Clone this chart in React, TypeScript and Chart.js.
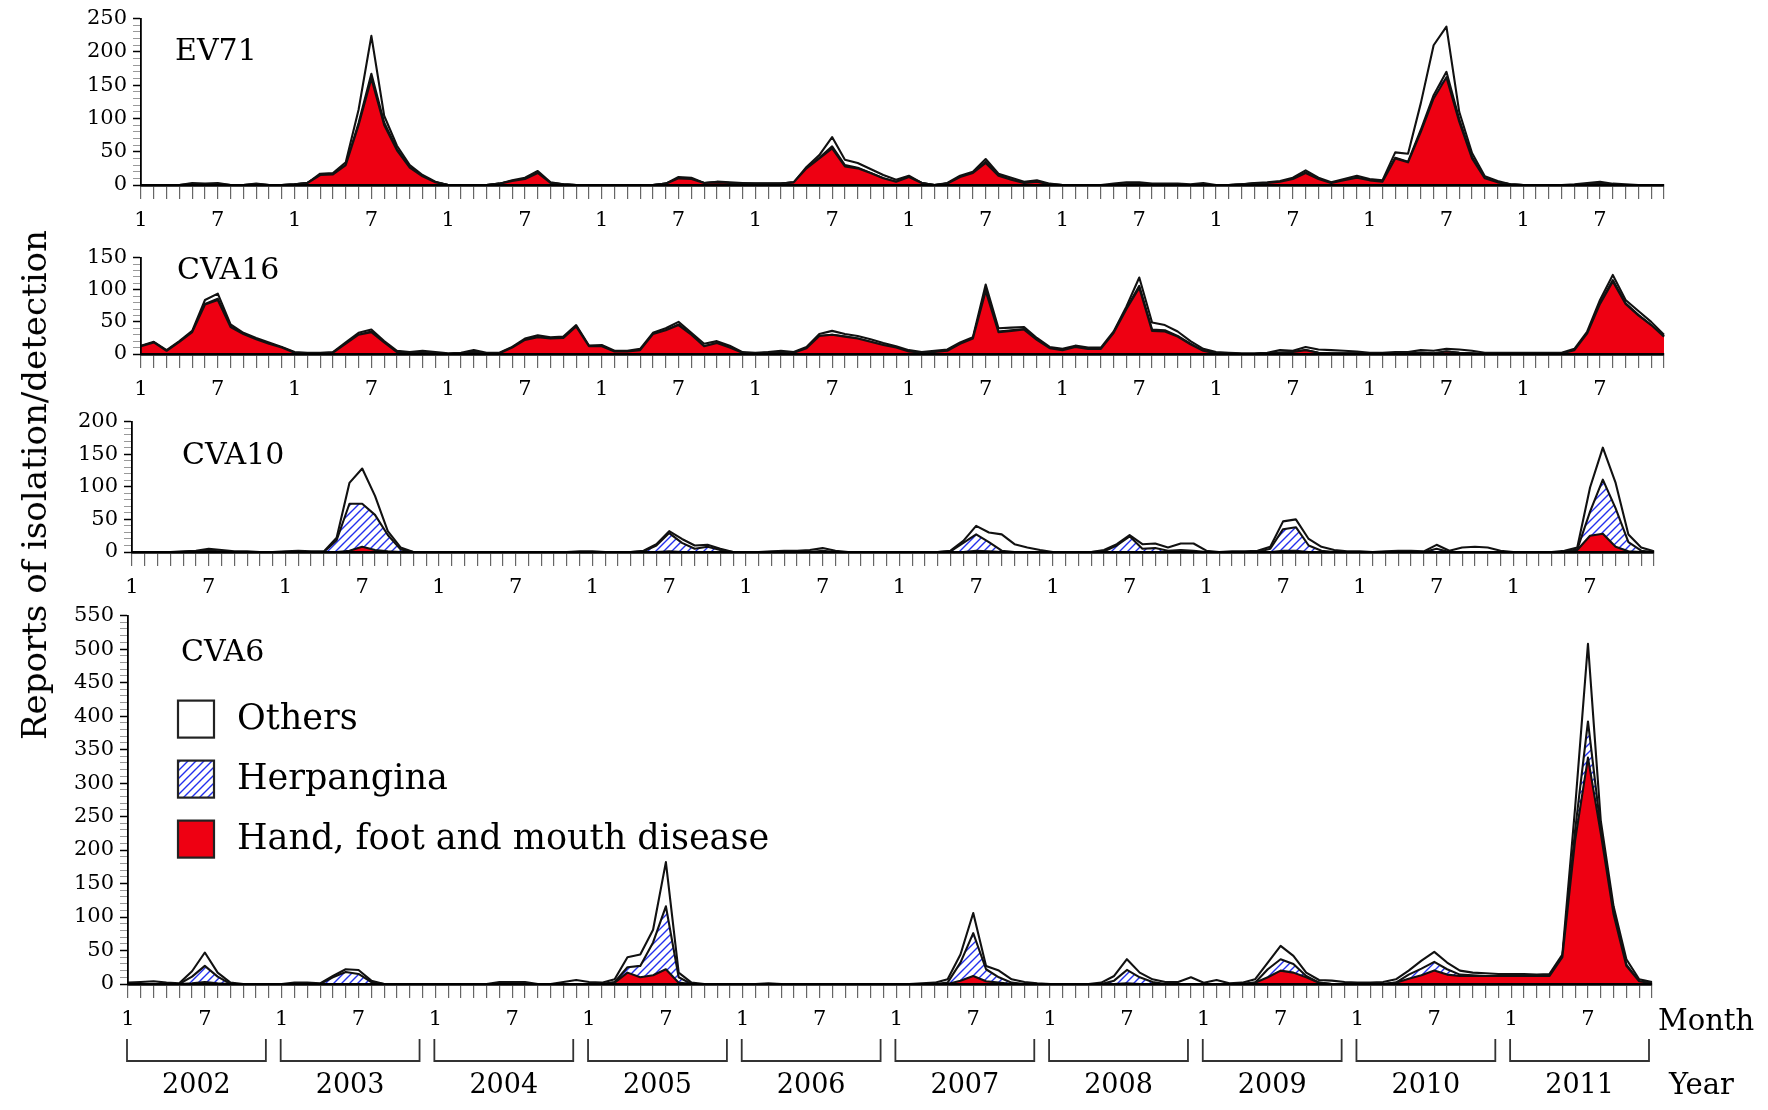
import React, { useEffect, useRef } from 'react';
import { Chart, registerables } from 'chart.js';

Chart.register(...registerables);

// ---------- categories ----------
const YEARS = ['2002', '2003', '2004', '2005', '2006', '2007', '2008', '2009', '2010', '2011'];
const MONTHS = ['1', '2', '3', '4', '5', '6', '7', '8', '9', '10', '11', '12'];
const LABELED_MONTHS = ['1', '7'];
const CATEGORIES: string[] = YEARS.flatMap((y) => MONTHS.map((m) => `${y}-${m}`));

const SERIES_NAMES = ['Hand, foot and mouth disease', 'Herpangina', 'Others'];
const PANEL_NAMES = ['EV71', 'CVA16', 'CVA10', 'CVA6'];
const PANEL_MAX = [250, 150, 200, 550];
const Y_LABEL_STEP = 50;
const Y_MINOR_STEP = 10;

// ---------- EV71 ----------
const ev71Hfmd = [
  0, 0, 0, 0, 1, 1, 1, 0, 0, 1, 0, 0,
  1, 3, 15, 16, 30, 90, 160, 90, 52, 26, 13, 4,
  0, 0, 0, 0, 2, 6, 9, 18, 3, 1, 0, 0,
  0, 0, 0, 0, 0, 2, 10, 9, 3, 4, 3, 2,
  2, 2, 2, 4, 25, 40, 55, 28, 25, 18, 10, 5,
  12, 3, 0, 2, 12, 18, 33, 14, 8, 3, 5, 1,
  0, 0, 0, 0, 0, 1, 2, 0, 0, 0, 0, 0,
  0, 0, 1, 2, 3, 5, 9, 18, 9, 3, 7, 11,
  7, 5, 40, 34, 80, 130, 162, 95, 40, 10, 4, 1,
  0, 0, 0, 0, 0, 1, 2, 0, 0, 0, 0, 0,
];
const ev71Herp = [
  0, 0, 0, 0, 0, 0, 0, 0, 0, 0, 0, 0,
  0, 0, 0, 0, 0, 3, 7, 4, 2, 1, 0, 0,
  0, 0, 0, 0, 0, 0, 0, 0, 0, 0, 0, 0,
  0, 0, 0, 0, 0, 0, 0, 0, 0, 0, 0, 0,
  0, 0, 0, 0, 0, 1, 3, 2, 1, 0, 0, 0,
  0, 0, 0, 0, 0, 0, 2, 1, 0, 0, 0, 0,
  0, 0, 0, 0, 0, 0, 0, 0, 0, 0, 0, 0,
  0, 0, 0, 0, 0, 0, 0, 1, 0, 0, 0, 0,
  0, 0, 1, 1, 3, 5, 8, 4, 2, 0, 0, 0,
  0, 0, 0, 0, 0, 0, 0, 0, 0, 0, 0, 0,
];
const ev71Others = [
  0, 0, 0, 0, 2, 1, 2, 0, 0, 1, 0, 0,
  0, 0, 2, 2, 4, 20, 57, 10, 5, 3, 2, 1,
  0, 0, 0, 0, 0, 1, 2, 3, 1, 0, 0, 0,
  0, 0, 0, 0, 0, 0, 2, 2, 0, 1, 1, 1,
  0, 0, 0, 0, 2, 4, 14, 8, 7, 6, 5, 3,
  2, 0, 0, 1, 2, 2, 4, 2, 3, 2, 2, 1,
  0, 0, 0, 0, 2, 3, 2, 2, 2, 2, 1, 3,
  0, 0, 0, 1, 1, 1, 2, 3, 2, 1, 2, 3,
  2, 2, 8, 12, 40, 75, 68, 11, 6, 3, 2, 0,
  0, 0, 0, 0, 1, 2, 3, 2, 1, 0, 0, 0,
];

// ---------- CVA16 ----------
const cva16Hfmd = [
  12, 18, 5, 19, 34, 77, 84, 42, 31, 23, 16, 10,
  2, 1, 1, 2, 16, 30, 34, 18, 3, 1, 2, 1,
  0, 1, 3, 1, 1, 10, 22, 26, 24, 25, 43, 12,
  12, 4, 4, 6, 31, 37, 45, 30, 12, 17, 10, 2,
  1, 2, 3, 2, 9, 28, 30, 27, 24, 19, 14, 10,
  4, 2, 3, 5, 16, 24, 98, 34, 36, 38, 22, 9,
  6, 11, 8, 8, 33, 70, 103, 36, 35, 27, 15, 5,
  1, 1, 0, 0, 1, 2, 3, 6, 2, 1, 1, 1,
  1, 1, 1, 1, 2, 1, 4, 2, 1, 0, 0, 0,
  1, 1, 1, 1, 6, 32, 78, 113, 78, 60, 45, 27,
];
const cva16Herp = [
  0, 0, 0, 0, 0, 1, 2, 1, 0, 0, 0, 0,
  0, 0, 0, 0, 0, 0, 1, 0, 0, 0, 0, 0,
  0, 0, 0, 0, 0, 0, 0, 0, 0, 0, 0, 0,
  0, 0, 0, 0, 0, 0, 1, 0, 0, 0, 0, 0,
  0, 0, 0, 0, 0, 0, 0, 0, 0, 0, 0, 0,
  0, 0, 0, 0, 0, 0, 2, 1, 1, 1, 0, 0,
  0, 0, 0, 0, 0, 1, 3, 2, 2, 1, 1, 0,
  0, 0, 0, 0, 0, 0, 0, 0, 0, 0, 0, 0,
  0, 0, 0, 0, 0, 0, 0, 0, 0, 0, 0, 0,
  0, 0, 0, 0, 0, 0, 1, 2, 1, 1, 0, 0,
];
const cva16Others = [
  1, 1, 1, 1, 2, 6, 8, 3, 2, 2, 2, 1,
  1, 1, 1, 1, 2, 3, 3, 2, 2, 2, 3, 2,
  1, 1, 3, 1, 1, 1, 2, 3, 2, 2, 2, 1,
  2, 1, 1, 2, 2, 3, 4, 3, 4, 3, 3, 1,
  1, 1, 2, 1, 2, 3, 6, 4, 4, 4, 3, 2,
  2, 1, 2, 2, 2, 2, 8, 5, 4, 3, 3, 2,
  2, 2, 2, 2, 2, 3, 13, 11, 8, 7, 4, 3,
  2, 1, 1, 1, 1, 4, 2, 5, 5, 5, 4, 3,
  1, 1, 2, 2, 4, 4, 4, 5, 4, 2, 2, 2,
  1, 1, 1, 1, 2, 3, 5, 8, 5, 6, 5, 3,
];

// ---------- CVA10 ----------
const cva10Hfmd = [
  0, 0, 0, 0, 0, 0, 0, 0, 0, 0, 0, 0,
  0, 0, 0, 0, 0, 2, 8, 3, 1, 0, 0, 0,
  0, 0, 0, 0, 0, 0, 0, 0, 0, 0, 0, 0,
  0, 0, 0, 0, 0, 0, 1, 0, 0, 0, 0, 0,
  0, 0, 0, 0, 0, 0, 0, 0, 0, 0, 0, 0,
  0, 0, 0, 0, 0, 0, 2, 1, 0, 0, 0, 0,
  0, 0, 0, 0, 0, 0, 0, 0, 0, 0, 0, 0,
  0, 0, 0, 0, 0, 0, 2, 2, 0, 0, 0, 0,
  0, 0, 0, 0, 0, 0, 0, 0, 0, 0, 0, 0,
  0, 0, 0, 0, 0, 3, 25, 28, 8, 1, 0, 0,
];
const cva10Herp = [
  0, 0, 0, 0, 0, 1, 2, 1, 0, 0, 0, 0,
  0, 0, 0, 0, 18, 72, 66, 54, 25, 4, 0, 0,
  0, 0, 0, 0, 0, 0, 0, 0, 0, 0, 0, 0,
  0, 0, 0, 0, 1, 10, 28, 14, 5, 8, 3, 0,
  0, 0, 0, 0, 0, 0, 2, 0, 0, 0, 0, 0,
  0, 0, 0, 0, 1, 14, 25, 14, 2, 0, 0, 0,
  0, 0, 0, 0, 1, 10, 24, 5, 6, 2, 3, 2,
  0, 0, 0, 0, 0, 5, 33, 36, 10, 2, 0, 0,
  0, 0, 0, 0, 0, 0, 5, 0, 0, 0, 0, 0,
  0, 0, 0, 0, 0, 1, 37, 83, 59, 14, 2, 0,
];
const cva10Others = [
  0, 0, 0, 0, 1, 1, 3, 2, 1, 1, 0, 0,
  1, 2, 1, 1, 4, 32, 54, 29, 6, 3, 0, 0,
  0, 0, 0, 0, 0, 0, 0, 0, 0, 0, 0, 1,
  1, 0, 0, 0, 1, 2, 3, 6, 5, 3, 2, 0,
  0, 0, 1, 2, 2, 3, 4, 2, 0, 0, 0, 0,
  0, 0, 0, 0, 1, 3, 13, 15, 25, 12, 7, 3,
  0, 0, 0, 0, 2, 2, 2, 7, 7, 5, 10, 11,
  2, 0, 1, 1, 2, 3, 12, 12, 10, 6, 3, 1,
  1, 0, 1, 2, 2, 1, 6, 2, 7, 8, 7, 2,
  0, 0, 0, 0, 2, 3, 37, 49, 39, 12, 5, 1,
];

// ---------- CVA6 ----------
const cva6Hfmd = [
  0, 0, 0, 0, 0, 1, 3, 1, 0, 0, 0, 0,
  0, 0, 0, 0, 0, 0, 0, 0, 0, 0, 0, 0,
  0, 0, 0, 0, 0, 0, 0, 0, 0, 0, 0, 0,
  0, 0, 2, 17, 10, 13, 22, 2, 0, 0, 0, 0,
  0, 0, 0, 0, 0, 0, 0, 0, 0, 0, 0, 0,
  0, 0, 0, 0, 0, 5, 12, 4, 2, 0, 0, 0,
  0, 0, 0, 0, 0, 0, 1, 0, 0, 0, 0, 0,
  0, 0, 0, 0, 2, 10, 20, 17, 10, 2, 0, 0,
  0, 0, 0, 2, 8, 13, 20, 14, 12, 12, 12, 12,
  12, 12, 12, 12, 40, 215, 338, 225, 104, 27, 4, 1,
];
const cva6Herp = [
  0, 0, 0, 0, 0, 10, 24, 10, 0, 0, 0, 0,
  0, 0, 0, 0, 10, 18, 15, 3, 0, 0, 0, 0,
  0, 0, 0, 0, 0, 0, 0, 0, 0, 0, 0, 0,
  0, 0, 1, 8, 17, 49, 94, 8, 0, 0, 0, 0,
  0, 0, 0, 0, 0, 0, 0, 0, 0, 0, 0, 0,
  0, 0, 0, 0, 2, 27, 64, 18, 8, 2, 0, 0,
  0, 0, 0, 0, 0, 5, 20, 10, 3, 0, 0, 0,
  0, 0, 0, 0, 0, 12, 17, 13, 2, 0, 0, 0,
  0, 0, 0, 0, 6, 10, 13, 8, 2, 1, 0, 0,
  0, 0, 0, 0, 1, 15, 54, 6, 4, 2, 0, 0,
];
const cva6Others = [
  2, 3, 4, 2, 1, 8, 20, 6, 2, 0, 0, 0,
  0, 2, 2, 1, 2, 4, 6, 2, 0, 0, 0, 0,
  0, 0, 0, 0, 0, 3, 3, 3, 0, 0, 3, 6,
  3, 2, 4, 15, 17, 19, 66, 7, 2, 0, 0, 0,
  0, 0, 1, 0, 0, 0, 0, 0, 0, 0, 0, 0,
  0, 0, 1, 2, 5, 12, 30, 5, 10, 5, 3, 1,
  0, 0, 0, 0, 2, 7, 16, 7, 4, 3, 3, 10,
  2, 6, 1, 2, 5, 10, 20, 12, 5, 4, 5, 3,
  2, 2, 3, 5, 6, 12, 15, 10, 6, 4, 4, 3,
  3, 3, 2, 3, 3, 34, 116, 13, 8, 8, 3, 2,
];

const PANEL_SERIES = [
  [ev71Hfmd, ev71Herp, ev71Others],
  [cva16Hfmd, cva16Herp, cva16Others],
  [cva10Hfmd, cva10Herp, cva10Others],
  [cva6Hfmd, cva6Herp, cva6Others],
];

// ---------- layout & style ----------
const SERIF = '"DejaVu Serif", "Liberation Serif", serif';
const RED = '#ee0012';
const HATCH_BLUE = '#2330ee';
const Y_W = 80;
const X_H = 52;
const PAD_T = 14;
const AREAS = [
  { l: 141, r: 1664, t: 14, b: 185, padR: 14, padB: 0, nameDx: 34, nameDy: 34 },
  { l: 141, r: 1664, t: 253, b: 354, padR: 14, padB: 0, nameDx: 36, nameDy: 14 },
  { l: 132, r: 1654, t: 417, b: 552, padR: 14, padB: 0, nameDx: 50, nameDy: 35 },
  { l: 128, r: 1652, t: 611, b: 984, padR: 116, padB: 74, nameDx: 53, nameDy: 38 },
];

function canvasBox(i: number) {
  const a = AREAS[i];
  const left = a.l - Y_W;
  const top = a.t - PAD_T;
  const width = a.r + a.padR - left;
  const height = a.b + X_H + a.padB - top;
  return { left, top, width, height };
}

function makeHatch(): CanvasPattern | string {
  const s = 8;
  const c = document.createElement('canvas');
  c.width = s;
  c.height = s;
  const g = c.getContext('2d');
  if (!g) return '#ccd';
  g.fillStyle = '#ffffff';
  g.fillRect(0, 0, s, s);
  g.strokeStyle = HATCH_BLUE;
  g.lineWidth = 1.4;
  g.beginPath();
  g.moveTo(0, s);
  g.lineTo(s, 0);
  g.moveTo(-2, 2);
  g.lineTo(2, -2);
  g.moveTo(s - 2, s + 2);
  g.lineTo(s + 2, s - 2);
  g.stroke();
  const p = g.createPattern(c, 'repeat');
  return p || '#ccd';
}

export default function App() {
  const refs = useRef<(HTMLCanvasElement | null)[]>([]);

  useEffect(() => {
    const hatch = makeHatch();
    const fills = [RED, hatch, '#ffffff'];
    const charts: Chart[] = [];

    PANEL_NAMES.forEach((name, pi) => {
      const canvas = refs.current[pi];
      if (!canvas) return;
      const a = AREAS[pi];
      const isLast = pi === PANEL_NAMES.length - 1;

      const plugins: any[] = [
        {
          id: 'panelName' + pi,
          afterDatasetsDraw(chart: any) {
            const { ctx, chartArea } = chart;
            ctx.save();
            ctx.font = `30px ${SERIF}`;
            ctx.fillStyle = '#000';
            ctx.textAlign = 'left';
            ctx.textBaseline = 'middle';
            ctx.fillText(name, chartArea.left + a.nameDx, chartArea.top + a.nameDy);
            ctx.restore();
          },
        },
      ];

      if (isLast) {
        plugins.push({
          id: 'legendAndYears',
          afterDraw(chart: any) {
            const { ctx, chartArea } = chart;
            const xs = chart.scales.x;
            ctx.save();
            // legend (top to bottom: Others, Herpangina, HFMD)
            const order = [2, 1, 0];
            order.forEach((di, k) => {
              const ds = chart.data.datasets[di];
              const bx = chartArea.left + 50;
              const by = chartArea.top + 85 + k * 60;
              ctx.fillStyle = ds.backgroundColor;
              ctx.fillRect(bx, by, 36, 37);
              ctx.strokeStyle = '#222';
              ctx.lineWidth = 2.2;
              ctx.strokeRect(bx, by, 36, 37);
              ctx.fillStyle = '#000';
              ctx.font = `35px ${SERIF}`;
              ctx.textAlign = 'left';
              ctx.textBaseline = 'middle';
              ctx.fillText(ds.label, chartArea.left + 109, by + 19);
            });
            // year brackets
            const b = chartArea.bottom;
            ctx.strokeStyle = '#333';
            ctx.lineWidth = 1.8;
            YEARS.forEach((yr, k) => {
              const x0 = xs.getPixelForValue(k * 12) - 1;
              const x1 = xs.getPixelForValue(k * 12 + 11) - 3;
              ctx.beginPath();
              ctx.moveTo(x0, b + 55);
              ctx.lineTo(x0, b + 77);
              ctx.lineTo(x1, b + 77);
              ctx.lineTo(x1, b + 55);
              ctx.stroke();
              ctx.fillStyle = '#000';
              ctx.font = `27px ${SERIF}`;
              ctx.textAlign = 'center';
              ctx.textBaseline = 'middle';
              ctx.fillText(yr, (x0 + x1) / 2, b + 102);
            });
            ctx.font = `29px ${SERIF}`;
            ctx.textAlign = 'left';
            ctx.textBaseline = 'middle';
            ctx.fillText('Month', chartArea.right + 6, b + 38);
            ctx.fillText('Year', chartArea.right + 17, b + 102);
            ctx.restore();
          },
        });
      }

      const chart = new Chart(canvas, {
        type: 'line',
        data: {
          labels: CATEGORIES,
          datasets: PANEL_SERIES[pi].map((vals, si) => ({
            label: SERIES_NAMES[si],
            data: vals,
            backgroundColor: fills[si] as any,
            borderColor: '#111',
            borderWidth: 2.1,
            borderJoinStyle: 'round',
            fill: si === 0 ? 'origin' : '-1',
            pointRadius: 0,
            tension: 0,
          })),
        },
        options: {
          animation: false,
          responsive: false,
          maintainAspectRatio: false,
          events: [],
          layout: { padding: { top: PAD_T, right: a.padR, bottom: a.padB, left: 0 } },
          plugins: { legend: { display: false }, tooltip: { enabled: false }, title: { display: false } },
          scales: {
            x: {
              type: 'category',
              offset: false,
              grid: { drawOnChartArea: false, drawTicks: true, tickLength: 14, color: '#666', lineWidth: 1.2 },
              border: { display: true, color: '#000', width: 2.8, z: 1 },
              ticks: {
                autoSkip: false,
                maxRotation: 0,
                minRotation: 0,
                padding: 9,
                color: '#000',
                font: { family: SERIF, size: 21 },
                callback: (_v: any, idx: number) => {
                  const m = CATEGORIES[idx].split('-')[1];
                  return LABELED_MONTHS.includes(m) ? m : '';
                },
              },
              afterFit: (s: any) => {
                s.height = X_H;
              },
            },
            y: {
              stacked: true,
              min: 0,
              max: PANEL_MAX[pi],
              grid: {
                drawOnChartArea: false,
                drawTicks: true,
                tickLength: 8,
                tickColor: (ctx: any) => (ctx.tick && ctx.tick.value % Y_LABEL_STEP === 0 ? '#000' : '#999'),
                tickWidth: (ctx: any) => (ctx.tick && ctx.tick.value % Y_LABEL_STEP === 0 ? 1.5 : 1),
              },
              border: { display: true, color: '#000', width: 1.8, z: 1 },
              ticks: {
                stepSize: Y_MINOR_STEP,
                autoSkip: false,
                maxTicksLimit: 200,
                padding: 6,
                color: '#000',
                font: { family: SERIF, size: 21 },
                callback: (v: any) => (Number(v) % Y_LABEL_STEP === 0 ? String(v) : ''),
              },
              afterFit: (s: any) => {
                s.width = Y_W;
              },
            },
          },
        },
        plugins,
      } as any);
      charts.push(chart);
    });

    return () => {
      charts.forEach((c) => c.destroy());
    };
  }, []);

  return (
    <div
      style={{
        position: 'absolute',
        left: 0,
        top: 0,
        width: 1768,
        height: 1110,
        background: '#fff',
        overflow: 'hidden',
        fontFamily: SERIF,
      }}
    >
      {PANEL_NAMES.map((n, i) => {
        const box = canvasBox(i);
        return (
          <canvas
            key={n}
            ref={(el) => {
              refs.current[i] = el;
            }}
            width={box.width}
            height={box.height}
            style={{ position: 'absolute', left: box.left, top: box.top, width: box.width, height: box.height }}
          />
        );
      })}
      <div
        style={{
          position: 'absolute',
          left: 34,
          top: 485,
          transform: 'translate(-50%, -50%) rotate(-90deg)',
          whiteSpace: 'nowrap',
          fontSize: 34,
          fontFamily: SERIF,
          color: '#000',
          lineHeight: 1,
        }}
      >
        Reports of isolation/detection
      </div>
    </div>
  );
}
